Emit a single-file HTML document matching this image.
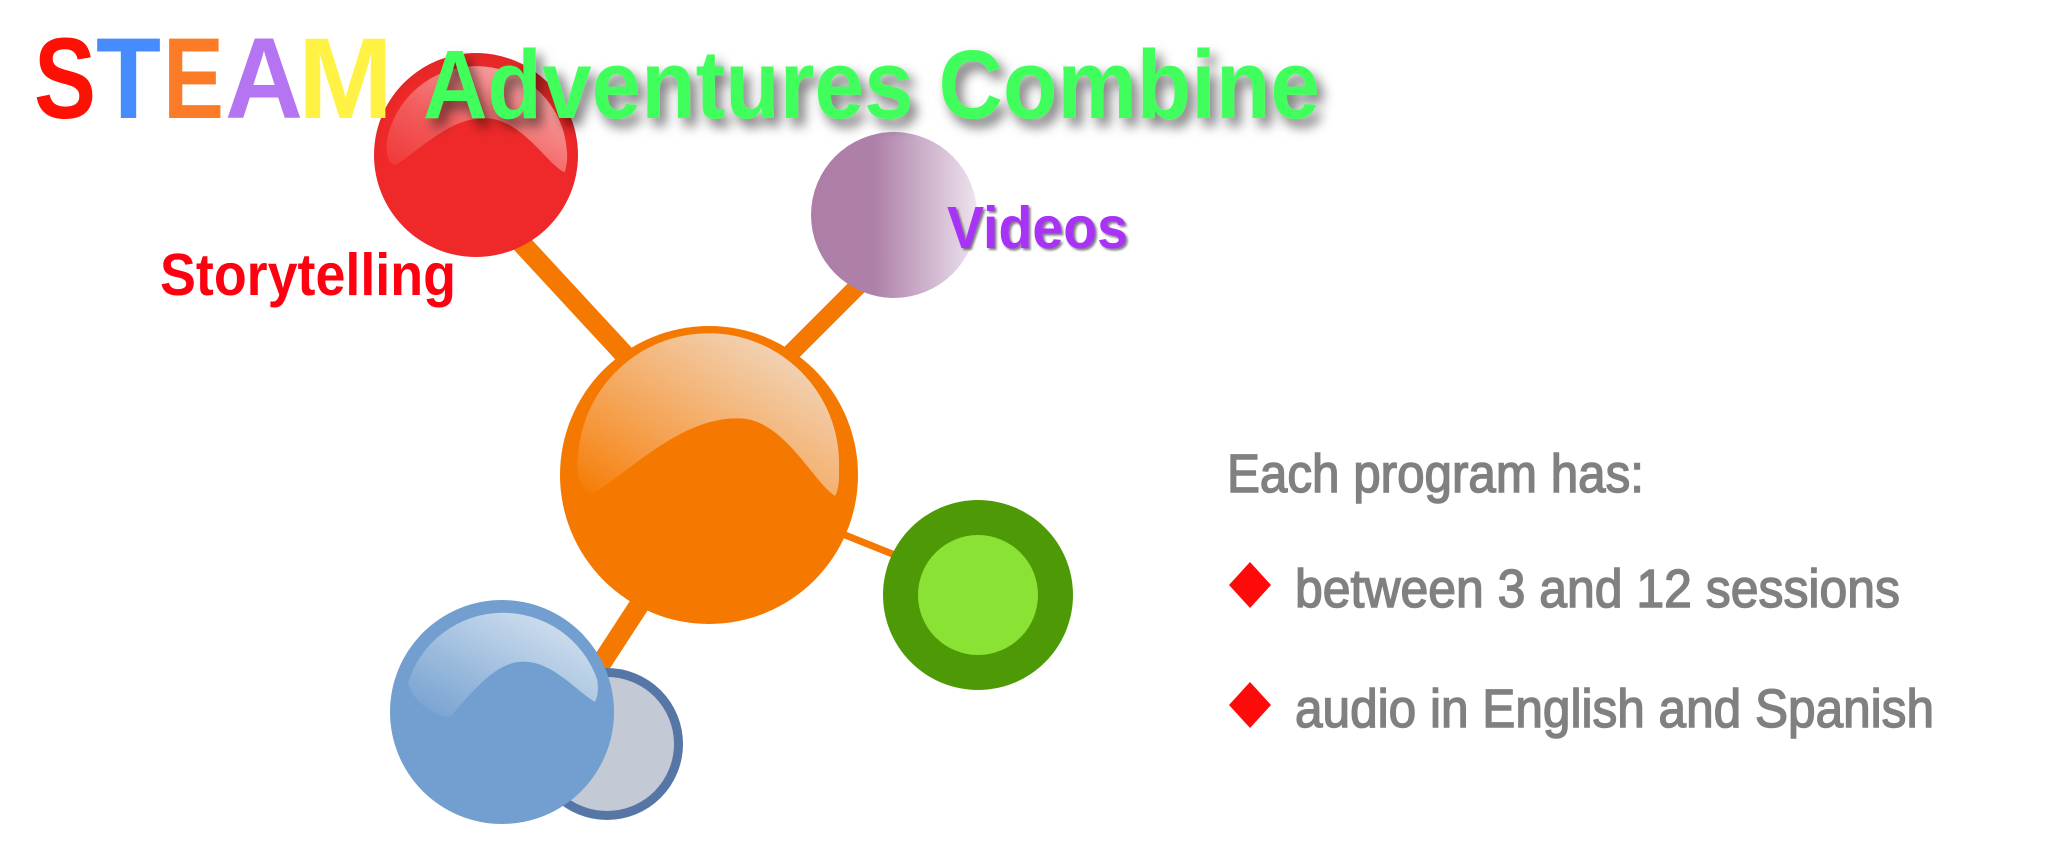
<!DOCTYPE html>
<html>
<head>
<meta charset="utf-8">
<style>
  html,body{margin:0;padding:0;background:#ffffff;}
  body{width:2048px;height:846px;overflow:hidden;}
  svg{display:block;}
  text{font-family:"Liberation Sans", "DejaVu Sans", sans-serif;}
</style>
</head>
<body>
<svg width="2048" height="846" viewBox="0 0 2048 846" xmlns="http://www.w3.org/2000/svg">
  <defs>
    <linearGradient id="gPurple" x1="0" y1="0" x2="1" y2="0">
      <stop offset="0" stop-color="#ad7fa8"/>
      <stop offset="0.38" stop-color="#ae80a9"/>
      <stop offset="1" stop-color="#ede3ee"/>
    </linearGradient>
    <linearGradient id="hlOrange" x1="0" y1="1" x2="1" y2="0">
      <stop offset="0" stop-color="#ffffff" stop-opacity="0"/>
      <stop offset="0.35" stop-color="#f4f0ec" stop-opacity="0.35"/>
      <stop offset="1" stop-color="#eeeae6" stop-opacity="0.92"/>
    </linearGradient>
    <linearGradient id="hlRed" x1="0" y1="1" x2="1" y2="0">
      <stop offset="0" stop-color="#ffffff" stop-opacity="0.05"/>
      <stop offset="0.4" stop-color="#ffffff" stop-opacity="0.25"/>
      <stop offset="1" stop-color="#ffffff" stop-opacity="0.7"/>
    </linearGradient>
    <linearGradient id="hlBlue" x1="0" y1="1" x2="1" y2="0">
      <stop offset="0" stop-color="#ffffff" stop-opacity="0"/>
      <stop offset="0.4" stop-color="#ffffff" stop-opacity="0.3"/>
      <stop offset="1" stop-color="#eef2f6" stop-opacity="0.85"/>
    </linearGradient>
    <radialGradient id="gRed" cx="0.5" cy="0.55" r="0.55">
      <stop offset="0.85" stop-color="#ef2929"/>
      <stop offset="1" stop-color="#e32626"/>
    </radialGradient>
    <filter id="titleShadow" x="-10%" y="-30%" width="120%" height="170%">
      <feDropShadow dx="6" dy="8" stdDeviation="6" flood-color="#000000" flood-opacity="0.55"/>
    </filter>
    <filter id="smallShadow" x="-10%" y="-20%" width="120%" height="150%">
      <feDropShadow dx="2" dy="2" stdDeviation="1" flood-color="#000000" flood-opacity="0.5"/>
    </filter>
  </defs>

  <!-- connectors -->
  <line x1="500" y1="220" x2="660" y2="393" stroke="#f57900" stroke-width="20"/>
  <line x1="890" y1="254" x2="760" y2="384" stroke="#f57900" stroke-width="18"/>
  <line x1="820" y1="525" x2="920" y2="565" stroke="#f57900" stroke-width="7"/>
  <line x1="662" y1="570" x2="580" y2="696" stroke="#f57900" stroke-width="20"/>

  <!-- gray circle (behind blue) -->
  <circle cx="607" cy="744" r="71.5" fill="#c3cad6" stroke="#5677a6" stroke-width="9"/>

  <!-- blue circle -->
  <circle cx="502" cy="712" r="112" fill="#729fcf"/>
  <path transform="translate(502,712) scale(112)" fill="url(#hlBlue)"
        d="M0.85,-0.29 A0.89,0.89 0 0 0 -0.84,-0.26 C-0.8,-0.1 -0.6,0.05 -0.46,0.04 C-0.25,-0.2 -0.05,-0.45 0.19,-0.45 C0.45,-0.45 0.65,-0.2 0.83,-0.09 C0.86,-0.15 0.86,-0.22 0.85,-0.29 Z"/>

  <!-- orange center circle -->
  <circle cx="709" cy="475" r="149" fill="#f57900"/>
  <path transform="translate(709,475) scale(149)" fill="url(#hlOrange)"
        d="M0.872,-0.03 A0.875,0.875 0 0 0 -0.879,-0.12 C-0.9,0 -0.85,0.13 -0.78,0.12 C-0.55,0 -0.2,-0.39 0.2,-0.38 C0.5,-0.38 0.7,0.05 0.846,0.14 C0.87,0.1 0.875,0.03 0.872,-0.03 Z"/>

  <!-- green circle -->
  <circle cx="978" cy="595" r="95" fill="#4e9a06"/>
  <circle cx="978" cy="595" r="60" fill="#8ae234"/>

  <!-- red circle -->
  <circle cx="476" cy="155" r="102" fill="url(#gRed)"/>
  <path transform="translate(476,155) scale(102)" fill="url(#hlRed)"
        d="M0.89,-0.05 A0.89,0.89 0 0 0 -0.86,-0.2 C-0.9,-0.05 -0.86,0.1 -0.79,0.1 C-0.55,-0.05 -0.25,-0.37 0.09,-0.36 C0.45,-0.36 0.7,0.1 0.87,0.17 C0.89,0.1 0.9,0.02 0.89,-0.05 Z"/>

  <!-- purple circle -->
  <circle cx="894" cy="215" r="83" fill="url(#gPurple)"/>

  <!-- STEAM -->
  <text x="34" y="118" font-size="115" font-weight="bold" fill="#ff1005" textLength="62" lengthAdjust="spacingAndGlyphs">S</text>
  <text x="96" y="118" font-size="115" font-weight="bold" fill="#478cff" textLength="65" lengthAdjust="spacingAndGlyphs">T</text>
  <text x="163" y="118" font-size="115" font-weight="bold" fill="#fb7b26" textLength="61" lengthAdjust="spacingAndGlyphs">E</text>
  <text x="225" y="118" font-size="115" font-weight="bold" fill="#b574f2" textLength="78" lengthAdjust="spacingAndGlyphs">A</text>
  <text x="298" y="118" font-size="115" font-weight="bold" fill="#fff244" textLength="95" lengthAdjust="spacingAndGlyphs">M</text>

  <!-- Adventures Combine -->
  <text x="423" y="118" font-size="97" font-weight="bold" fill="#40ff5c" filter="url(#titleShadow)" textLength="897" lengthAdjust="spacingAndGlyphs">Adventures Combine</text>

  <!-- labels -->
  <text x="160" y="295" font-size="59" font-weight="bold" fill="#ff0010" textLength="296" lengthAdjust="spacingAndGlyphs">Storytelling</text>
  <text x="947" y="248" font-size="59" font-weight="bold" fill="#a832f5" filter="url(#smallShadow)" textLength="181" lengthAdjust="spacingAndGlyphs">Videos</text>

  <!-- right side text -->
  <text x="1227" y="492" font-size="54" fill="#808080" stroke="#808080" stroke-width="1.5" textLength="417" lengthAdjust="spacingAndGlyphs">Each program has:</text>
  <polygon points="1250,562 1271,585 1250,608 1229,585" fill="#ff0a0a"/>
  <text x="1295" y="607" font-size="54" fill="#808080" stroke="#808080" stroke-width="1.5" textLength="605" lengthAdjust="spacingAndGlyphs">between 3 and 12 sessions</text>
  <polygon points="1250,682 1271,705 1250,728 1229,705" fill="#ff0a0a"/>
  <text x="1295" y="727" font-size="54" fill="#808080" stroke="#808080" stroke-width="1.5" textLength="639" lengthAdjust="spacingAndGlyphs">audio in English and Spanish</text>
</svg>
</body>
</html>
